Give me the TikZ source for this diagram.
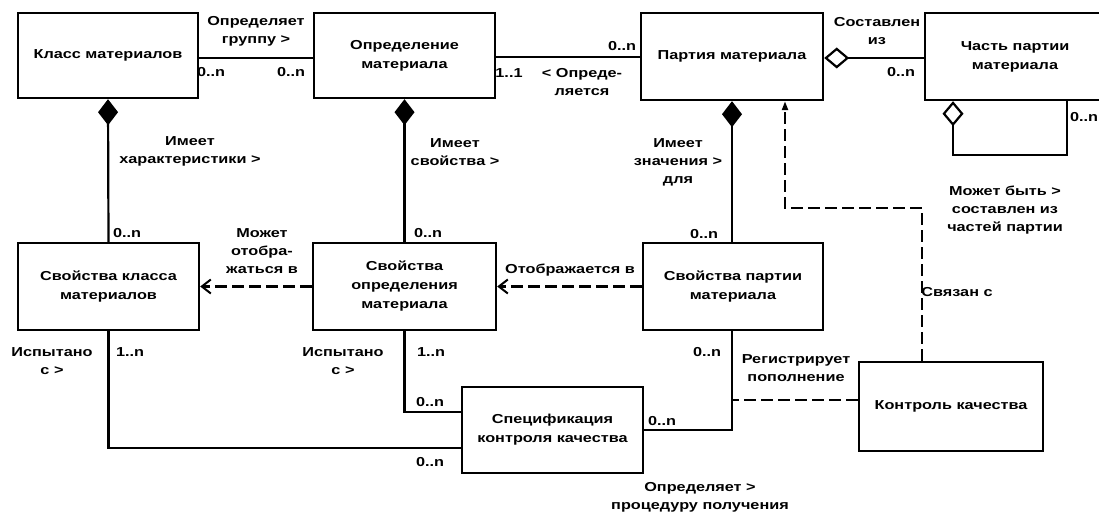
\documentclass[tikz,border=0pt]{standalone}
\usepackage{fontspec}
\setmainfont{Liberation Sans}[FakeStretch=1.25]
\usetikzlibrary{arrows.meta,calc}
\tikzset{
  ent/.style={draw, line width=2.4pt, align=center, inner sep=2pt,
    font=\fontsize{13}{19}\selectfont\bfseries},
  lbl/.style={align=center, inner sep=0pt, font=\fontsize{13}{18}\selectfont\bfseries},
  conn/.style={line width=2.2pt},
  dconn/.style={line width=2.2pt, dash pattern=on 12pt off 5pt},
  comp/.style={{Diamond[length=26pt,width=20pt]}-},
  aggr/.style={{Diamond[open,length=25pt,width=21pt,line width=2.2pt]}-},
  barb/.style={-{Straight Barb[length=9pt,width=14pt,line width=2pt]}},
  tri/.style={-{Triangle[length=9pt,width=6pt]}}
}
\begin{document}
\begin{tikzpicture}[x=1pt,y=-1pt]
\useasboundingbox (0,0) rectangle (1099,513);
% entities
\node[ent, minimum width=180pt, minimum height=85pt] (klass) at (108,55.5) {Класс материалов};
\node[ent, minimum width=181pt, minimum height=85pt] (opr) at (404.5,55.5) {Определение\\материала};
\node[ent, minimum width=182pt, minimum height=87pt] (part) at (732,56.5) {Партия материала};
\node[ent, minimum width=180pt, minimum height=87pt] (chast) at (1015,56.5) {Часть партии\\материала};
\node[ent, minimum width=181pt, minimum height=87pt] (svk) at (108.5,286.5) {Свойства класса\\материалов};
\node[ent, minimum width=183pt, minimum height=87pt] (svo) at (404.5,286.5) {Свойства\\определения\\материала};
\node[ent, minimum width=180pt, minimum height=87pt] (svp) at (733,286.5) {Свойства партии\\материала};
\node[ent, minimum width=181pt, minimum height=86pt] (spec) at (552.5,430) {Спецификация\\контроля качества};
\node[ent, minimum width=184pt, minimum height=89pt] (kk) at (951,406.5) {Контроль качества};
% top row connectors
\draw[conn] (klass.east |- 0,58) -- (opr.west |- 0,58);
\draw[conn] (opr.east |- 0,57) -- (part.west |- 0,57);
\draw[conn,aggr] (part.east |- 0,58) -- (chast.west |- 0,58);
\draw[conn,aggr] (chast.south -| 953,0) -- (953,155) -- (1067,155) -- (chast.south -| 1067,0);
% composition
\draw[conn,comp] (klass.south) -- (svk.north);
\draw[conn,comp] (opr.south) -- (svo.north);
\draw[conn,comp] (part.south) -- (svp.north -| part.south);
% dashed mappings
\draw[dconn,barb] (svp.west) -- (svo.east);
\draw[dconn,barb] (svo.west) -- (svk.east);
\draw[dconn,tri] (kk.north -| 922,0) -- (922,208) -- (785,208) -- (part.south -| 785,0);
% to specification
\draw[conn] (svk.south) -- (108.5,448) -- (spec.west |- 0,448);
\draw[conn] (svo.south) -- (404.5,412) -- (spec.west |- 0,412);
\draw[conn] (svp.south -| 732,0) |- (spec.east);
\coordinate (j) at (732,400);
\draw[dconn] (kk.west |- j) -- (j);
% labels
\node[lbl] (l1) at (256,31) {Определяет\\группу >};
\node[lbl] (l2) at (211,72) {0..n};
\node[lbl] (l3) at (291,72) {0..n};
\node[lbl] (l4) at (622,46) {0..n};
\node[lbl] (l5) at (509,73) {1..1};
\node[lbl] (l6) at (582,82) {< Опреде-\\ляется};
\node[lbl] (l7) at (877,31) {Составлен\\из};
\node[lbl] (l8) at (901,72) {0..n};
\node[lbl] (l9) at (1084,117) {0..n};
\node[lbl] (l10) at (190,151) {Имеет\\характеристики >};
\node[lbl] (l11) at (455,152) {Имеет\\свойства >};
\node[lbl] (l12) at (678,162) {Имеет\\значения >\\для};
\node[lbl] (l13) at (127,233) {0..n};
\node[lbl] (l14) at (428,233) {0..n};
\node[lbl] (l15) at (704,234) {0..n};
\node[lbl] (l16) at (262,251) {Может\\отобра-\\жаться в};
\node[lbl] (l17) at (570,270) {Отображается в};
\node[lbl] (l18) at (1005,210) {Может быть >\\составлен из\\частей партии};
\node[lbl] (l19) at (957,292) {Связан с};
\node[lbl] (l20) at (52,361) {Испытано\\с >};
\node[lbl] (l21) at (130,352) {1..n};
\node[lbl] (l22) at (343,361) {Испытано\\с >};
\node[lbl] (l23) at (431,352) {1..n};
\node[lbl] (l24) at (707,352) {0..n};
\node[lbl] (l25) at (796,368) {Регистрирует\\пополнение};
\node[lbl] (l26) at (430,402) {0..n};
\node[lbl] (l27) at (430,462) {0..n};
\node[lbl] (l28) at (662,421) {0..n};
\node[lbl] (l29) at (700,497) {Определяет >\\процедуру получения};
\end{tikzpicture}
\end{document}
